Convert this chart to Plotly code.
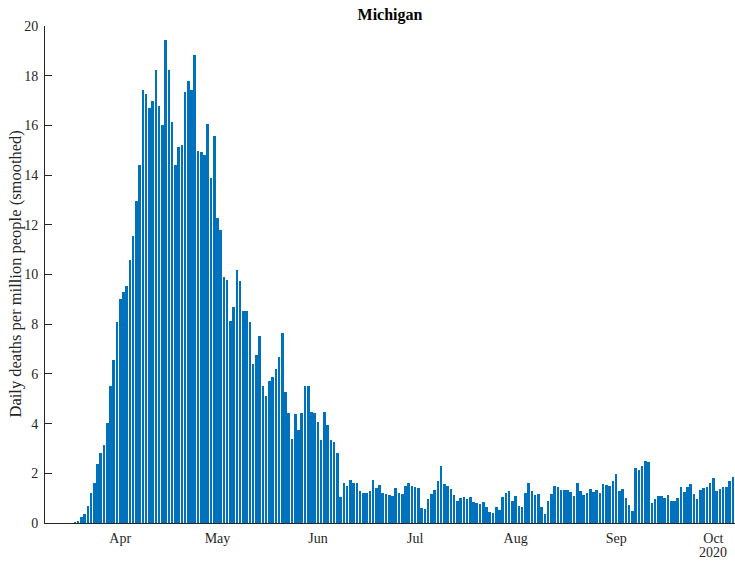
import datetime as dt
import plotly.graph_objects as go

# Daily deaths per million people (smoothed), Michigan, 2020
start_date = "2020-03-10"
mar_vals = [0, 0, 0, 0, 0, 0, 0, 0, 0.04, 0.1, 0.25, 0.38, 0.7, 1.2, 1.6, 2.36,
            2.8, 3.13, 4.04, 5.5, 6.55, 8.07]
apr_vals = [9.0, 9.28, 9.54, 10.58, 11.54, 12.97, 14.42, 17.42, 17.25, 16.71,
            17.0, 18.21, 16.78, 16.0, 19.44, 18.23, 16.15, 14.42, 15.13, 15.22,
            17.34, 17.79, 17.41, 18.82, 14.97, 14.91, 14.79, 16.04, 13.89, 15.57]
may_vals = [12.28, 11.79, 9.88, 9.77, 8.11, 8.7, 10.2, 9.72, 8.55, 8.55,
            8.1, 6.38, 6.76, 7.52, 5.5, 5.1, 5.7, 5.88, 6.21, 6.67,
            7.66, 5.28, 4.44, 3.4, 4.38, 3.73, 4.44, 5.5, 5.5, 4.47, 4.44]
jun_vals = [4.07, 3.34, 4.47, 3.96, 3.34, 3.26, 2.83, 1.05, 1.62, 1.48,
            1.72, 1.6, 1.62, 1.28, 1.19, 1.19, 1.28, 1.72, 1.4, 1.52,
            1.19, 1.17, 1.14, 1.09, 1.4, 1.19, 1.17, 1.49, 1.6, 1.48]
jul_vals = [1.45, 1.41, 0.62, 0.56, 0.97, 1.17, 1.33, 1.68, 2.3, 1.56,
            1.48, 1.36, 1.11, 0.87, 1.02, 1.06, 0.98, 1.06, 0.83, 0.81,
            0.75, 0.83, 0.66, 0.43, 0.4, 0.63, 0.54, 1.03, 1.22, 1.28, 0.87]
aug_vals = [1.09, 0.68, 0.66, 1.19, 1.62, 1.28, 1.14, 1.17, 0.64, 0.36,
            0.87, 1.17, 1.49, 1.46, 1.33, 1.33, 1.33, 1.25, 1.09, 1.62,
            1.29, 1.11, 1.21, 1.36, 1.25, 1.33, 1.21, 1.57, 1.54, 1.49, 1.7]
sep_vals = [1.97, 1.28, 1.36, 0.99, 0.74, 0.48, 2.2, 2.12, 2.28, 2.48,
            2.46, 0.79, 0.95, 1.07, 1.07, 0.99, 1.14, 0.87, 0.9, 0.99,
            1.44, 1.25, 1.44, 1.57, 1.15, 0.97, 1.33, 1.4, 1.44, 1.62]
oct_vals = [1.8, 1.28, 1.37, 1.44, 1.44, 1.7, 1.87]

tick_dates = ["2020-04-01", "2020-05-01", "2020-06-01", "2020-07-01",
              "2020-08-01", "2020-09-01", "2020-10-01"]
tick_labels = ["Apr", "May", "Jun", "Jul", "Aug", "Sep", "Oct"]
year_label = "2020"
y_ticks = [0, 2, 4, 6, 8, 10, 12, 14, 16, 18, 20]

values = mar_vals + apr_vals + may_vals + jun_vals + jul_vals + aug_vals + sep_vals + oct_vals
d0 = dt.date.fromisoformat(start_date)
dates = [(d0 + dt.timedelta(days=i)).isoformat() for i in range(len(values))]

FONT = "Liberation Serif, Times New Roman, serif"
AX = "#262626"

fig = go.Figure(go.Bar(
    x=dates, y=values,
    width=0.8 * 86400000,
    marker=dict(color="#0072BD", line=dict(width=0)),
))

fig.update_layout(
    width=735, height=561,
    template="none",
    paper_bgcolor="white", plot_bgcolor="white",
    margin=dict(l=45, r=0, t=26, b=38),
    font=dict(family=FONT, size=14, color=AX),
    showlegend=False,
    bargap=0,
    title=dict(text="<b>Michigan</b>", x=0.5306, xref="container", xanchor="center",
               y=1 - 14 / 561, yref="container", yanchor="middle",
               font=dict(family=FONT, size=16, color="black")),
    annotations=[
        dict(text="Daily deaths per million people (smoothed)",
             x=(15 - 45) / 690, y=0.5, xref="paper", yref="paper",
             textangle=-90, showarrow=False, xanchor="center", yanchor="middle",
             font=dict(family=FONT, size=16.5, color=AX)),
        dict(text=year_label, x=tick_dates[-1], y=-(552 - 523) / 497,
             xref="x", yref="paper", showarrow=False,
             xanchor="center", yanchor="middle",
             font=dict(family=FONT, size=14, color=AX)),
    ],
)

fig.update_xaxes(
    type="date",
    range=["2020-03-08 19:00", "2020-10-07 16:00"],
    tickvals=tick_dates, ticktext=tick_labels,
    ticks="", showgrid=False, zeroline=False,
    showline=True, linecolor=AX, linewidth=1,
    tickfont=dict(family=FONT, size=14, color=AX),
    ticklabelstandoff=2,
)
fig.update_yaxes(
    range=[0, 20], tickvals=y_ticks,
    ticks="inside", ticklen=7, tickcolor=AX, tickwidth=1,
    showgrid=False, zeroline=False,
    showline=True, linecolor=AX, linewidth=1,
    tickfont=dict(family=FONT, size=14, color=AX),
    ticklabelstandoff=3,
)

fig.write_html("out.html", config={"displayModeBar": False},
               post_script="document.body.style.margin='0';document.body.style.overflow='hidden';")
